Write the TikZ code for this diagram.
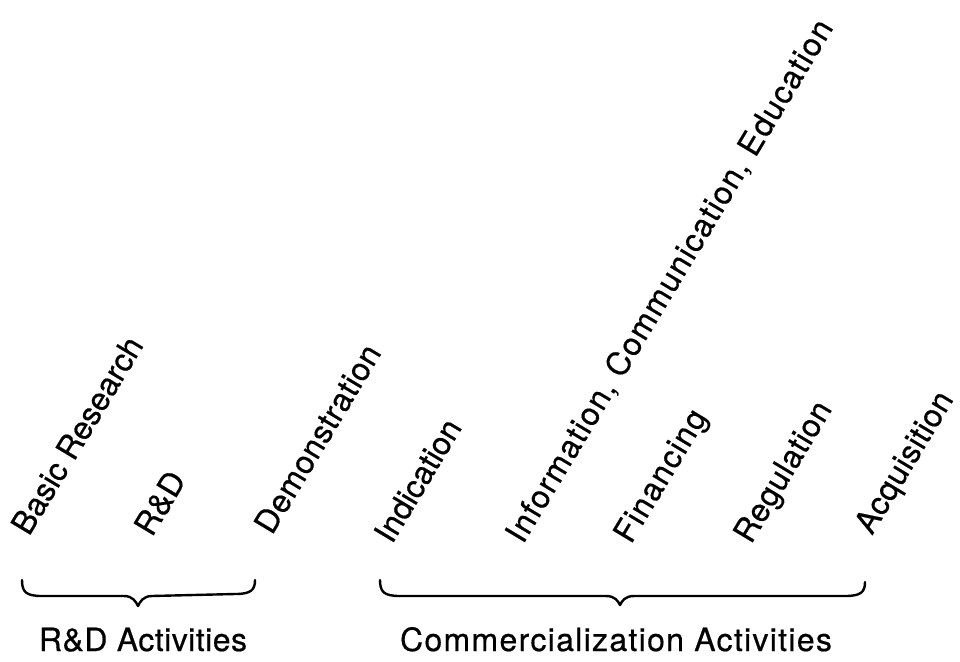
\documentclass[tikz,border=0pt]{standalone}
\usepackage{fontspec}
\setmainfont{TeX Gyre Heros}[FakeBold=0.5]
\newcommand{\spaced}[1]{\addfontfeature{LetterSpace=#1}}
\begin{document}
\begin{tikzpicture}[x=1pt,y=-1pt,
  activity/.style={anchor=base west, rotate=59, inner sep=0pt,
    font=\fontsize{32}{38}\selectfont},
  grouplabel/.style={anchor=base, inner sep=0pt,
    font=\fontsize{32}{38}\selectfont},
  bracepath/.style={line width=2.4pt, line cap=round, line join=round}]
\useasboundingbox (0,0) rectangle (960,661);

% activity labels, slanted
\node[activity] (basic) at (29,537) {Basic Research};
\node[activity] (rd)    at (152,538) {R\&D};
\node[activity] (demo)  at (272,536) {\spaced{1.5}Demonstration};
\node[activity] (indic) at (392,545) {Indication};
\node[activity] (info)  at (523,545) {\spaced{4}Information, Communication, Education};
\node[activity] (fin)   at (631,545) {\spaced{4}Financing};
\node[activity] (reg)   at (751,545) {\spaced{2}Regulation};
\node[activity] (acq)   at (872,536) {\spaced{1.5}Acquisition};

% group labels
\node[grouplabel] (rdact)  at (143,651) {\spaced{1.5}R\&D Activities};
\node[grouplabel] (comact) at (616,651) {\spaced{4.1}Commercialization Activities};

% under-braces grouping the activities
\coordinate (rdL) at (22,580);   \coordinate (rdR) at (255,580);   \coordinate (rdT) at (138,606);
\coordinate (cmL) at (380,580);  \coordinate (cmR) at (865,582);   \coordinate (cmT) at (620,605);

\foreach \l/\r/\t in {rdL/rdR/rdT, cmL/cmR/cmT}{
  \draw[bracepath]
    (\l) .. controls ([yshift=-12]\l) and ([xshift=4,yshift=-16]\l) .. ([xshift=20,yshift=-16]\l)
    -- ([xshift=-14]\t |- 0,596)
    .. controls ([xshift=-5]\t |- 0,596) and ([xshift=-2,yshift=4]\t) .. (\t)
    .. controls ([xshift=2,yshift=4]\t) and ([xshift=5]\t |- 0,596) .. ([xshift=14]\t |- 0,596)
    -- ([xshift=-20,yshift=-14]\r)
    .. controls ([xshift=-4,yshift=-14]\r) and ([yshift=-10]\r) .. (\r);
}
\end{tikzpicture}
\end{document}
